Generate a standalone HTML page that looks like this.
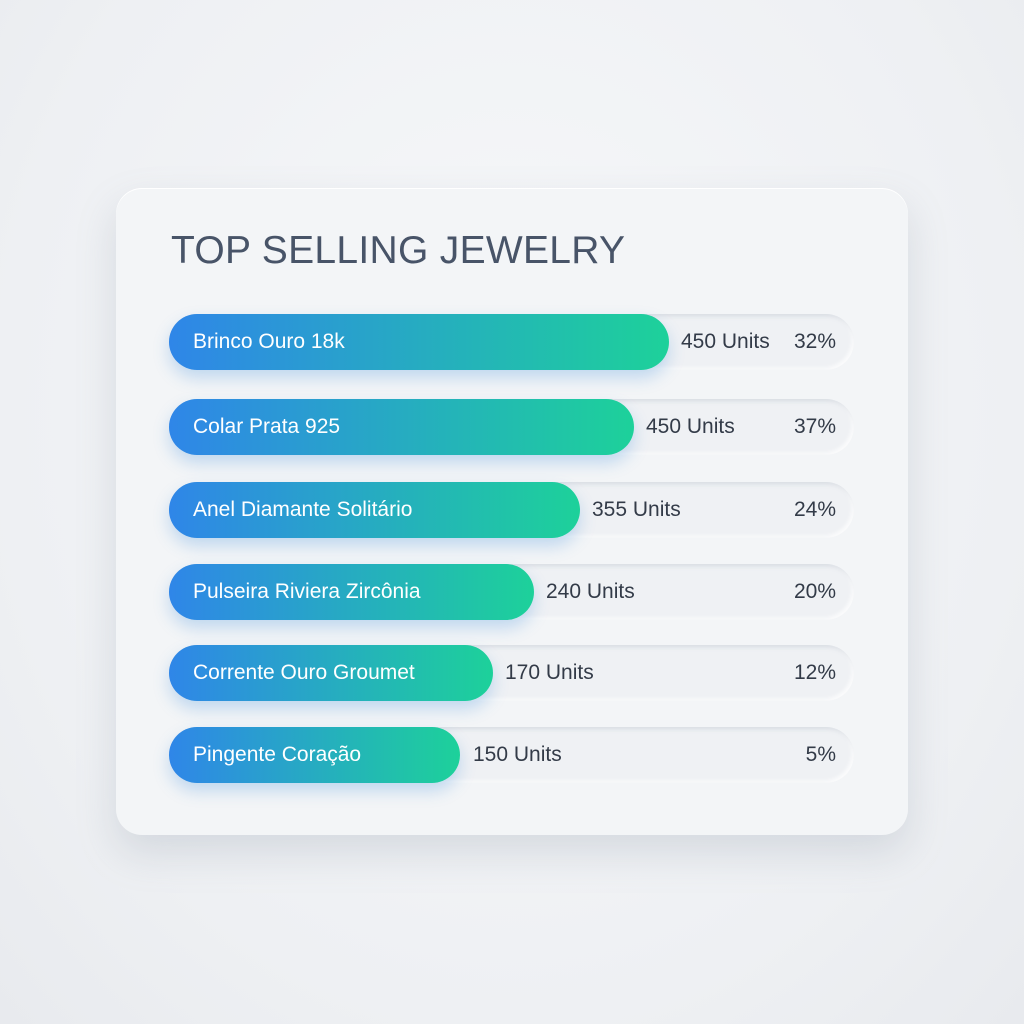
<!DOCTYPE html>
<html><head><style>
html,body{margin:0;padding:0;}
body{width:1024px;height:1024px;background:radial-gradient(ellipse at 50% 40%,#f7f8fa 0%,#eef0f3 70%,#e8eaee 100%);position:relative;font-family:"Liberation Sans",sans-serif;overflow:hidden;}
.card{position:absolute;left:116px;top:188px;width:792px;height:647px;border-radius:26px;background:#f3f5f7;box-shadow:0 18px 40px rgba(120,130,150,0.22),inset 0 1px 0 #fff;}
.title{position:absolute;left:171px;top:229px;font-size:39px;color:#485468;font-weight:normal;letter-spacing:0.3px;}
.track{position:absolute;left:169px;width:685px;height:56px;border-radius:28px;background:#eff1f4;box-shadow:inset 2px 2px 4px rgba(170,178,192,0.35),inset -2px -2px 4px rgba(255,255,255,0.9);}
.bar{position:absolute;left:0;top:0;height:56px;border-radius:28px;background:linear-gradient(90deg,#2f86e8,#1dd19a);box-shadow:0 8px 16px rgba(60,140,220,0.28);}
.lbl{position:absolute;left:24px;top:0;line-height:56px;color:#fff;font-size:21px;}
.u{position:absolute;top:0;line-height:56px;color:#333b48;font-size:21px;}
.p{position:absolute;right:18px;top:0;line-height:56px;color:#333b48;font-size:21px;}
</style></head><body>
<div class="card"></div>
<div class="title">TOP SELLING JEWELRY</div>

<div class="track" style="top:314px"><div class="bar" style="width:500px"><div class="lbl">Brinco Ouro 18k</div></div><div class="u" style="left:512px">450 Units</div><div class="p">32%</div></div>
<div class="track" style="top:399px"><div class="bar" style="width:465px"><div class="lbl">Colar Prata 925</div></div><div class="u" style="left:477px">450 Units</div><div class="p">37%</div></div>
<div class="track" style="top:482px"><div class="bar" style="width:411px"><div class="lbl">Anel Diamante Solitário</div></div><div class="u" style="left:423px">355 Units</div><div class="p">24%</div></div>
<div class="track" style="top:564px"><div class="bar" style="width:365px"><div class="lbl">Pulseira Riviera Zircônia</div></div><div class="u" style="left:377px">240 Units</div><div class="p">20%</div></div>
<div class="track" style="top:645px"><div class="bar" style="width:324px"><div class="lbl">Corrente Ouro Groumet</div></div><div class="u" style="left:336px">170 Units</div><div class="p">12%</div></div>
<div class="track" style="top:727px"><div class="bar" style="width:291px"><div class="lbl">Pingente Coração</div></div><div class="u" style="left:304px">150 Units</div><div class="p">5%</div></div>
</body></html>
